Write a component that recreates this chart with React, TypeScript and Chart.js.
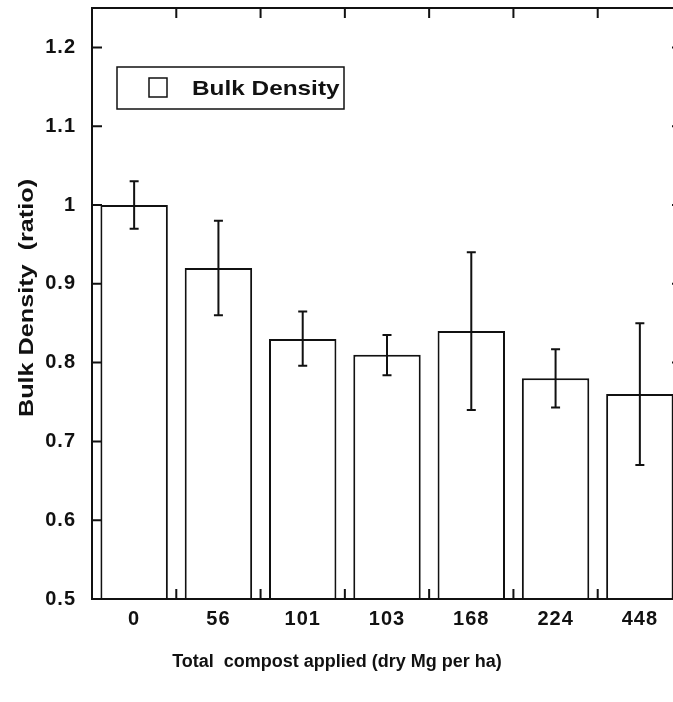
import { useEffect, useRef } from "react";
import { Chart, registerables } from "chart.js";

Chart.register(...registerables);

const categories = ["0", "56", "101", "103", "168", "224", "448"];
const bulkDensity = [1.0, 0.92, 0.83, 0.81, 0.84, 0.78, 0.76];
const errUpper = [1.03, 0.98, 0.865, 0.835, 0.94, 0.817, 0.85];
const errLower = [0.97, 0.86, 0.796, 0.784, 0.74, 0.743, 0.67];
const yTickLabels = ["0.5", "0.6", "0.7", "0.8", "0.9", "1", "1.1", "1.2"];
const seriesName = "Bulk Density";
const xTitle = "Total  compost applied (dry Mg per ha)";
const yTitle = "Bulk Density  (ratio)";

const FONT = '"Liberation Sans", Arial, Helvetica, sans-serif';
const INK = "#111";

export default function App() {
  const ref = useRef<HTMLCanvasElement>(null);

  useEffect(() => {
    const canvas = ref.current!;
    const decor = {
      id: "decor",
      beforeDraw(chart: any) {
        chart.ctx.letterSpacing = "1px";
      },
      afterDatasetsDraw(chart: any) {
        const ctx = chart.ctx;
        const xs = chart.scales.x;
        const ys = chart.scales.y;
        ctx.save();
        ctx.strokeStyle = INK;
        ctx.lineWidth = 2;
        categories.forEach((_, i) => {
          const px = xs.getPixelForValue(i);
          const yt = ys.getPixelForValue(errUpper[i]);
          const yb = ys.getPixelForValue(errLower[i]);
          ctx.beginPath();
          ctx.moveTo(px, yt);
          ctx.lineTo(px, yb);
          ctx.moveTo(px - 4.5, yt);
          ctx.lineTo(px + 4.5, yt);
          ctx.moveTo(px - 4.5, yb);
          ctx.lineTo(px + 4.5, yb);
          ctx.stroke();
        });
        ctx.restore();
      },
      afterDraw(chart: any) {
        const ctx = chart.ctx;
        const a = chart.chartArea;
        const xs = chart.scales.x;
        const ys = chart.scales.y;
        ctx.save();
        ctx.strokeStyle = INK;
        ctx.lineWidth = 2;
        ctx.strokeRect(a.left, a.top, a.right - a.left, a.bottom - a.top);
        const tl = 10;
        ctx.beginPath();
        yTickLabels.forEach((l) => {
          const py = ys.getPixelForValue(Number(l));
          ctx.moveTo(a.left, py);
          ctx.lineTo(a.left + tl, py);
          ctx.moveTo(a.right - tl, py);
          ctx.lineTo(a.right, py);
        });
        for (let i = 0; i < categories.length - 1; i++) {
          const px = (xs.getPixelForValue(i) + xs.getPixelForValue(i + 1)) / 2;
          ctx.moveTo(px, a.bottom);
          ctx.lineTo(px, a.bottom - tl);
          ctx.moveTo(px, a.top);
          ctx.lineTo(px, a.top + tl);
        }
        ctx.stroke();

        // legend
        ctx.lineWidth = 1.5;
        ctx.strokeRect(117, 67, 227, 42);
        ctx.strokeRect(149, 78, 18, 19);
        ctx.fillStyle = INK;
        ctx.font = `bold 21px ${FONT}`;
        ctx.letterSpacing = "0px";
        ctx.textAlign = "left";
        ctx.textBaseline = "alphabetic";
        ctx.save();
        ctx.translate(192, 95);
        ctx.scale(1.16, 1);
        ctx.fillText(seriesName, 0, 0);
        ctx.restore();

        // y title
        ctx.save();
        ctx.translate(33, 298);
        ctx.rotate(-Math.PI / 2);
        ctx.scale(1.2, 1);
        ctx.textAlign = "center";
        ctx.fillText(yTitle, 0, 0);
        ctx.restore();

        // x title
        ctx.font = `bold 18px ${FONT}`;
        ctx.textAlign = "center";
        ctx.fillText(xTitle, 337, 667);
        ctx.restore();
      },
    };

    const tickFont = { family: FONT, size: 20, weight: "bold" as const };
    const chart = new Chart(canvas, {
      type: "bar",
      data: {
        labels: categories,
        datasets: [
          {
            label: seriesName,
            data: bulkDensity,
            backgroundColor: "#fff",
            borderColor: INK,
            borderWidth: 2,
            barPercentage: 0.8,
            categoryPercentage: 1,
          },
        ],
      },
      options: {
        responsive: false,
        maintainAspectRatio: false,
        animation: false,
        layout: { padding: { top: 8, right: 10, left: 0, bottom: 0 } },
        plugins: { legend: { display: false }, tooltip: { enabled: false } },
        scales: {
          x: {
            grid: { display: false, drawTicks: false },
            border: { display: false },
            ticks: { color: INK, font: tickFont, padding: 8, maxRotation: 0, autoSkip: false },
            afterFit(s: any) {
              s.height = 103;
              s.paddingLeft = 0;
              s.paddingRight = 0;
            },
          },
          y: {
            min: 0.5,
            max: 1.25,
            grid: { display: false, drawTicks: false },
            border: { display: false },
            afterBuildTicks(s: any) {
              s.ticks = yTickLabels.map((l) => ({ value: Number(l) }));
            },
            ticks: {
              color: INK,
              font: tickFont,
              padding: 16,
              callback: (_v: any, i: number) => yTickLabels[i],
            },
            afterFit(s: any) {
              s.width = 92;
              s.paddingTop = 0;
              s.paddingBottom = 0;
            },
          },
        },
      },
      plugins: [decor],
    });
    return () => chart.destroy();
  }, []);

  return (
    <div
      style={{
        position: "fixed",
        left: 0,
        top: 0,
        width: 673,
        height: 702,
        overflow: "hidden",
        background: "#fff",
      }}
    >
      <canvas ref={ref} width={692} height={702} style={{ width: 692, height: 702, display: "block" }} />
    </div>
  );
}
